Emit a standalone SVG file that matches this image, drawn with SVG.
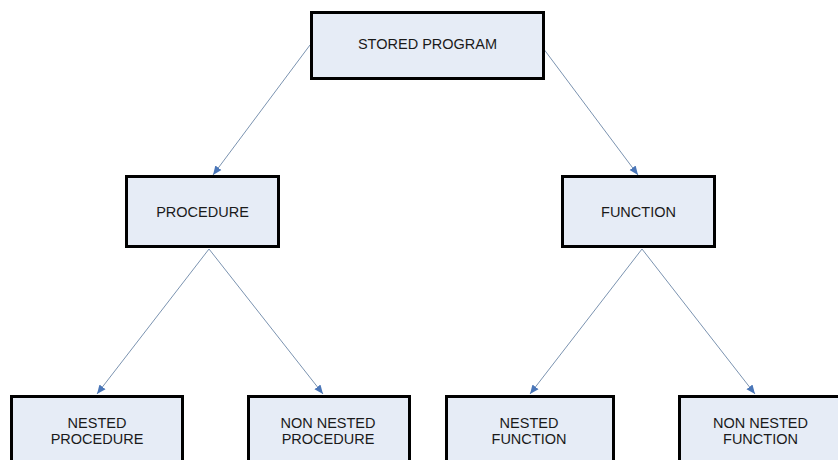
<svg xmlns="http://www.w3.org/2000/svg" width="838" height="460" viewBox="0 0 838 460">
  <style>
    .box { fill: #e6ecf6; stroke: #000000; stroke-width: 3; }
    .label { font-family: "Liberation Sans", Arial, sans-serif; font-size: 14.5px; fill: #1a1a1a; text-anchor: middle; }
    .link { stroke: #7b93b0; stroke-width: 1; fill: none; marker-end: url(#arrow); }
  </style>
  <defs>
    <marker id="arrow" markerUnits="userSpaceOnUse" markerWidth="10" markerHeight="10" viewBox="0 0 10 10" refX="9" refY="5" orient="auto">
      <path d="M0,1.2 L9,5 L0,8.8 Z" fill="#4a76b8"/>
    </marker>
  </defs>
  <rect x="0" y="0" width="838" height="460" fill="#ffffff"/>

  <g id="connectors">
    <line class="link" x1="310" y1="45" x2="213" y2="175"/>
    <line class="link" x1="543" y1="48" x2="638" y2="175"/>
    <line class="link" x1="209" y1="249" x2="97" y2="394"/>
    <line class="link" x1="209" y1="249" x2="323" y2="394"/>
    <line class="link" x1="642" y1="249" x2="530" y2="394"/>
    <line class="link" x1="642" y1="249" x2="755" y2="394"/>
  </g>

  <g id="stored-program">
    <rect class="box" x="311.5" y="12.5" width="232" height="66"/>
    <text class="label" x="427.5" y="49">STORED PROGRAM</text>
  </g>

  <g id="procedure">
    <rect class="box" x="126.5" y="176.5" width="152" height="70"/>
    <text class="label" x="202.5" y="217">PROCEDURE</text>
  </g>

  <g id="function">
    <rect class="box" x="562.5" y="176.5" width="152" height="70"/>
    <text class="label" x="638.5" y="217">FUNCTION</text>
  </g>

  <g id="nested-procedure">
    <rect class="box" x="11.5" y="396.5" width="171" height="80"/>
    <text class="label" x="97" y="427.5">NESTED</text>
    <text class="label" x="97" y="444">PROCEDURE</text>
  </g>

  <g id="non-nested-procedure">
    <rect class="box" x="248.5" y="396.5" width="161" height="80"/>
    <text class="label" x="328" y="427.5">NON NESTED</text>
    <text class="label" x="328" y="444">PROCEDURE</text>
  </g>

  <g id="nested-function">
    <rect class="box" x="446.5" y="396.5" width="167" height="80"/>
    <text class="label" x="529" y="427.5">NESTED</text>
    <text class="label" x="529" y="444">FUNCTION</text>
  </g>

  <g id="non-nested-function">
    <rect class="box" x="679.5" y="396.5" width="164" height="80"/>
    <text class="label" x="760.5" y="427.5">NON NESTED</text>
    <text class="label" x="760.5" y="444">FUNCTION</text>
  </g>
</svg>
